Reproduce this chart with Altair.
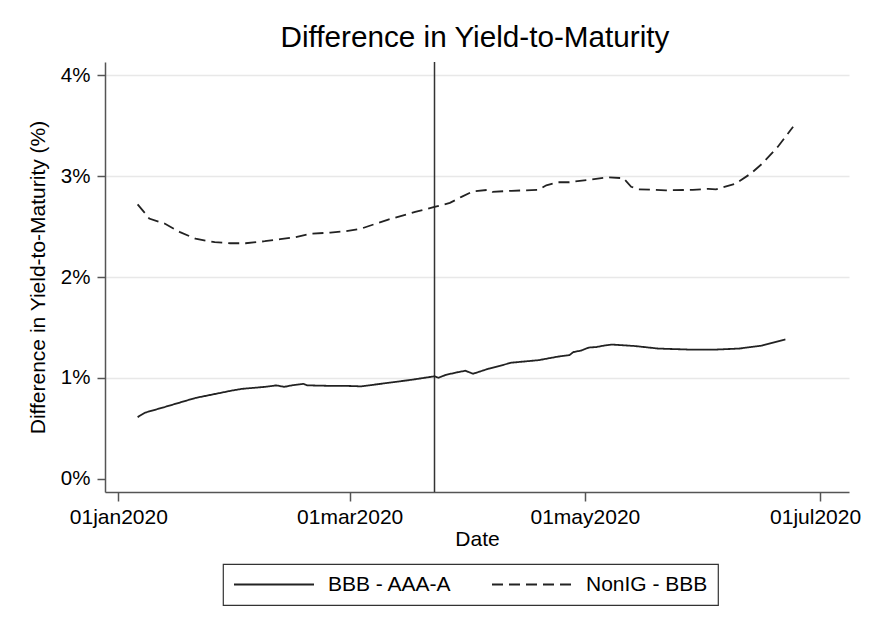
import altair as alt
import pandas as pd

# ---- data ----
series_names = ["BBB - AAA-A", "NonIG - BBB"]

solid_dates = ["2020-01-06", "2020-01-08", "2020-01-13", "2020-01-21", "2020-01-30",
               "2020-02-02", "2020-02-08", "2020-02-11", "2020-02-13", "2020-02-15",
               "2020-02-18", "2020-02-19", "2020-02-25", "2020-02-29", "2020-03-04",
               "2020-03-11", "2020-03-17", "2020-03-23", "2020-03-24", "2020-03-26",
               "2020-03-29", "2020-03-31", "2020-04-02", "2020-04-06", "2020-04-12",
               "2020-04-19", "2020-04-24", "2020-04-27", "2020-04-28", "2020-04-30",
               "2020-05-02", "2020-05-04", "2020-05-06", "2020-05-08", "2020-05-14",
               "2020-05-20", "2020-05-28", "2020-06-04", "2020-06-10", "2020-06-16",
               "2020-06-22"]
solid_values = [0.61, 0.655, 0.71, 0.80, 0.87,
                0.89, 0.91, 0.925, 0.91, 0.925,
                0.94, 0.925, 0.92, 0.92, 0.915,
                0.95, 0.98, 1.015, 1.00, 1.03,
                1.055, 1.07, 1.04, 1.09, 1.15,
                1.175, 1.21, 1.225, 1.255, 1.27,
                1.30, 1.305, 1.32, 1.33, 1.315,
                1.29, 1.28, 1.28, 1.29, 1.32,
                1.38]

dashed_dates = ["2020-01-06", "2020-01-08", "2020-01-09", "2020-01-13", "2020-01-17",
                "2020-01-21", "2020-01-26", "2020-01-30", "2020-02-03", "2020-02-08",
                "2020-02-12", "2020-02-16", "2020-02-20", "2020-02-25", "2020-02-29",
                "2020-03-04", "2020-03-11", "2020-03-18", "2020-03-23", "2020-03-27",
                "2020-03-30", "2020-04-02", "2020-04-06", "2020-04-07", "2020-04-12",
                "2020-04-19", "2020-04-21", "2020-04-24", "2020-04-27", "2020-05-02",
                "2020-05-07", "2020-05-11", "2020-05-13", "2020-05-15", "2020-05-22",
                "2020-05-29", "2020-06-02", "2020-06-04", "2020-06-09", "2020-06-13",
                "2020-06-16", "2020-06-20", "2020-06-24"]
dashed_values = [2.72, 2.63, 2.58, 2.53, 2.445,
                 2.38, 2.345, 2.335, 2.335, 2.355,
                 2.375, 2.395, 2.43, 2.44, 2.455,
                 2.48, 2.57, 2.645, 2.695, 2.735,
                 2.795, 2.85, 2.865, 2.845, 2.855,
                 2.865, 2.91, 2.94, 2.94, 2.965,
                 2.99, 2.98, 2.895, 2.87, 2.86,
                 2.865, 2.875, 2.87, 2.925, 3.025,
                 3.125, 3.29, 3.49]

event_dates = ["2020-03-23"]
y_tick_values = [0, 1, 2, 3, 4]
x_tick_dates = ["2020-01-01", "2020-03-01", "2020-05-01", "2020-07-01"]

# ---- tables ----
df = pd.concat([
    pd.DataFrame({"date": solid_dates, "value": solid_values, "series": series_names[0]}),
    pd.DataFrame({"date": dashed_dates, "value": dashed_values, "series": series_names[1]}),
], ignore_index=True)
events = pd.DataFrame({"date": event_dates})


def to_dt(s, hours=0):
    t = pd.Timestamp(s)
    return alt.DateTime(year=t.year, month=t.month, date=t.day, hours=hours, utc=True)


x_ticks = [to_dt(s) for s in x_tick_dates]
x_domain = [to_dt("2019-12-28", 13), to_dt("2020-07-08", 12)]

FONT = "Liberation Sans"
AXC = "#555555"

x_enc = alt.X(
    "date:T",
    title="Date",
    scale=alt.Scale(type="utc", domain=x_domain, nice=False),
    axis=alt.Axis(
        values=x_ticks,
        labelExpr="lower(utcFormat(datum.value, '%d%b%Y'))",
        labelOffset={"condition": {"test": "utcmonth(datum.value) === 6", "value": -5},
                     "value": 0},
        grid=False,
        tickSize=9, tickWidth=1.5, tickColor=AXC,
        domainColor=AXC, domainWidth=1.5,
        labelFontSize=21, labelPadding=5, labelColor="#000000",
        titleFontSize=21, titlePadding=1, titleColor="#000000",
        titleFontWeight="normal",
    ),
)

y_enc = alt.Y(
    "value:Q",
    title="Difference in Yield-to-Maturity (%)",
    scale=alt.Scale(domain=[-0.133, 4.133], nice=False, zero=False),
    axis=alt.Axis(
        values=y_tick_values,
        labelExpr="datum.value + '%'",
        grid=True,
        gridColor={"condition": {"test": "datum.value === 0", "value": "transparent"},
                   "value": "#e8e8e8"},
        gridWidth=1.5,
        tickSize=8, tickWidth=1.5, tickColor=AXC,
        domainColor=AXC, domainWidth=1.5,
        labelFontSize=20.5, labelPadding=7, labelColor="#000000",
        titleFontSize=21, titleColor="#000000", titleFontWeight="normal",
        titleX=-57, titleY=215,
    ),
)

lines = alt.Chart(df).mark_line(color="#222222", strokeWidth=1.8).encode(
    x=x_enc,
    y=y_enc,
    strokeDash=alt.StrokeDash(
        "series:N",
        scale=alt.Scale(domain=series_names, range=[[1, 0], [11, 6]]),
        legend=alt.Legend(
            title=None,
            orient="none",
            legendX=118,
            legendY=502,
            direction="horizontal",
            symbolType="stroke",
            symbolSize=6400,
            symbolStrokeWidth=2,
            symbolStrokeColor="#222222",
            clipHeight=21,
            labelFontSize=21,
            labelColor="#000000",
            labelOffset=13,
            columnPadding=39,
            padding=10,
            strokeColor="#333333",
        ),
    ),
)

rule = alt.Chart(events).mark_rule(color="#333333", strokeWidth=1.5).encode(
    x=alt.X("date:T")
)

chart = (
    alt.layer(rule, lines)
    .properties(
        width=744,
        height=430,
        autosize=alt.AutoSizeParams(type="none"),
        padding={"left": 97, "top": 54, "right": 12, "bottom": 120},
        title=alt.TitleParams(
            "Difference in Yield-to-Maturity",
            fontSize=29.7, font=FONT, fontWeight="normal", color="#000000",
            anchor="middle", offset=10, baseline="alphabetic", dy=25, dx=-2,
        ),
        background="white",
    )
    .configure_view(stroke=None)
    .configure_axis(labelFont=FONT, titleFont=FONT)
    .configure_legend(labelFont=FONT, strokeWidth=1.2)
)

chart.save("out.html", embed_options={"renderer": "svg", "actions": False})
